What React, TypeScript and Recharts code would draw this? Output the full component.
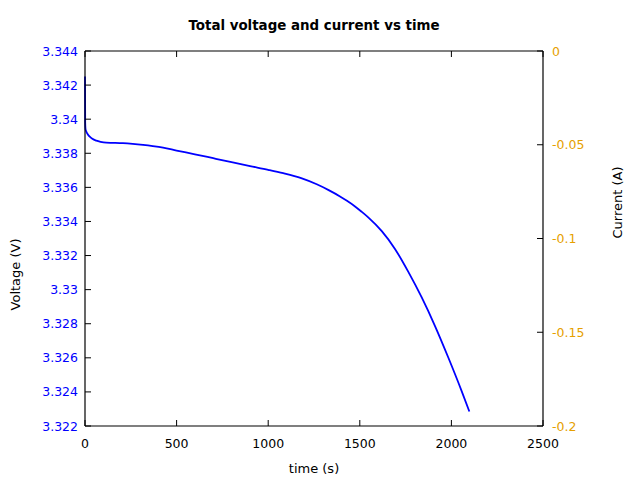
import React from 'react';
import { ComposedChart, Line, XAxis, YAxis } from 'recharts';

// time (s) and total voltage (V)
const timeS = [
  0, 1, 3, 7, 15, 26, 40, 62, 85, 116, 150, 207, 260, 317, 370, 426, 500, 600,
  700, 800, 901, 1000, 1082, 1180, 1265, 1330, 1392, 1430, 1474, 1510, 1546,
  1620, 1692, 1765, 1838, 1910, 1983, 2056, 2098,
];
const voltageV = [
  3.3425, 3.3398, 3.3394, 3.33927, 3.33912, 3.33897, 3.33885, 3.33874, 3.33867,
  3.33862, 3.33861, 3.33859, 3.33855, 3.33849, 3.33842, 3.33833, 3.33816,
  3.33794, 3.33771, 3.33748, 3.33725, 3.33703, 3.33683, 3.33654, 3.33618,
  3.33584, 3.33547, 3.33521, 3.33488, 3.33457, 3.33424, 3.33343, 3.33239,
  3.33104, 3.32954, 3.32788, 3.32602, 3.32405, 3.32285,
];

const timeTicks = [0, 500, 1000, 1500, 2000, 2500];
const voltageTicks = [
  3.322, 3.324, 3.326, 3.328, 3.33, 3.332, 3.334, 3.336, 3.338, 3.34, 3.342,
  3.344,
];
const currentTicks = [-0.2, -0.15, -0.1, -0.05, 0];

const data = timeS.map((t, i) => ({ t, v: voltageV[i] }));

const FONT = '"DejaVu Sans", sans-serif';
const BLUE = '#0000ff';
const ORANGE = '#e69f00';
const TICK_FS = 12.5;
const LABEL_FS = 13;
const TICK_LEN = 6;

// gnuplot-style ticks: the mark points into the plot, the text sits outside
function BottomTick({ x, y, payload }: any) {
  return (
    <g>
      <line x1={x} y1={y} x2={x} y2={y - TICK_LEN} stroke='#000' strokeWidth={1} />
      <text x={x} y={y + 22} textAnchor='middle' fill='#000' fontSize={TICK_FS} fontFamily={FONT}>
        {payload.value}
      </text>
    </g>
  );
}

function TopTick({ x, y }: any) {
  return <line x1={x} y1={y} x2={x} y2={y + TICK_LEN} stroke='#000' strokeWidth={1} />;
}

function LeftTick({ x, y, payload }: any) {
  return (
    <g>
      <line x1={x} y1={y} x2={x + TICK_LEN} y2={y} stroke='#000' strokeWidth={1} />
      <text x={x - 7} y={y} dy='0.36em' textAnchor='end' fill={BLUE} fontSize={TICK_FS} fontFamily={FONT}>
        {payload.value}
      </text>
    </g>
  );
}

function RightTick({ x, y, payload }: any) {
  return (
    <g>
      <line x1={x} y1={y} x2={x - TICK_LEN} y2={y} stroke='#000' strokeWidth={1} />
      <text x={x + 9} y={y} dy='0.36em' textAnchor='start' fill={ORANGE} fontSize={TICK_FS} fontFamily={FONT}>
        {payload.value}
      </text>
    </g>
  );
}

export default function App() {
  return (
    <div
      style={{
        position: 'absolute',
        left: 0,
        top: 0,
        width: 640,
        height: 480,
        background: '#fff',
        fontFamily: FONT,
      }}
    >
      <div
        style={{
          position: 'absolute',
          left: 85,
          width: 458,
          top: 18,
          textAlign: 'center',
          fontWeight: 'bold',
          fontSize: 13.4,
          color: '#000',
        }}
      >
        Total voltage and current vs time
      </div>
      <ComposedChart
        width={640}
        height={480}
        data={data}
        margin={{ top: 50, right: 37, bottom: 24, left: 25 }}
      >
        <XAxis
          dataKey='t'
          type='number'
          domain={[0, 2500]}
          ticks={timeTicks}
          stroke='#000'
          strokeWidth={1.2}
          tickLine={false}
          tickSize={0}
          tickMargin={0}
          tick={<BottomTick />}
          height={30}
          label={{
            value: 'time (s)',
            position: 'bottom',
            offset: 8,
            fill: '#000',
            fontSize: LABEL_FS,
            fontFamily: FONT,
          }}
        />
        <XAxis
          xAxisId='top'
          orientation='top'
          dataKey='t'
          type='number'
          domain={[0, 2500]}
          ticks={timeTicks}
          stroke='#000'
          strokeWidth={1.2}
          tickLine={false}
          tickSize={0}
          tickMargin={0}
          tick={<TopTick />}
          height={1}
        />
        <YAxis
          type='number'
          domain={[3.322, 3.344]}
          ticks={voltageTicks}
          allowDataOverflow
          stroke='#000'
          strokeWidth={1.2}
          tickLine={false}
          tickSize={0}
          tickMargin={0}
          tick={<LeftTick />}
          width={60}
          label={{
            value: 'Voltage (V)',
            angle: -90,
            position: 'left',
            offset: 10,
            fill: '#000',
            fontSize: LABEL_FS,
            fontFamily: FONT,
          }}
        />
        <YAxis
          yAxisId='right'
          orientation='right'
          type='number'
          domain={[-0.2, 0]}
          ticks={currentTicks}
          allowDataOverflow
          stroke='#000'
          strokeWidth={1.2}
          tickLine={false}
          tickSize={0}
          tickMargin={0}
          tick={<RightTick />}
          width={60}
          label={{
            value: 'Current (A)',
            angle: -90,
            position: 'right',
            offset: 14,
            fill: '#000',
            fontSize: LABEL_FS,
            fontFamily: FONT,
          }}
        />
        <Line
          dataKey='v'
          type='monotone'
          stroke={BLUE}
          strokeWidth={1.8}
          dot={false}
          isAnimationActive={false}
        />
      </ComposedChart>
    </div>
  );
}
